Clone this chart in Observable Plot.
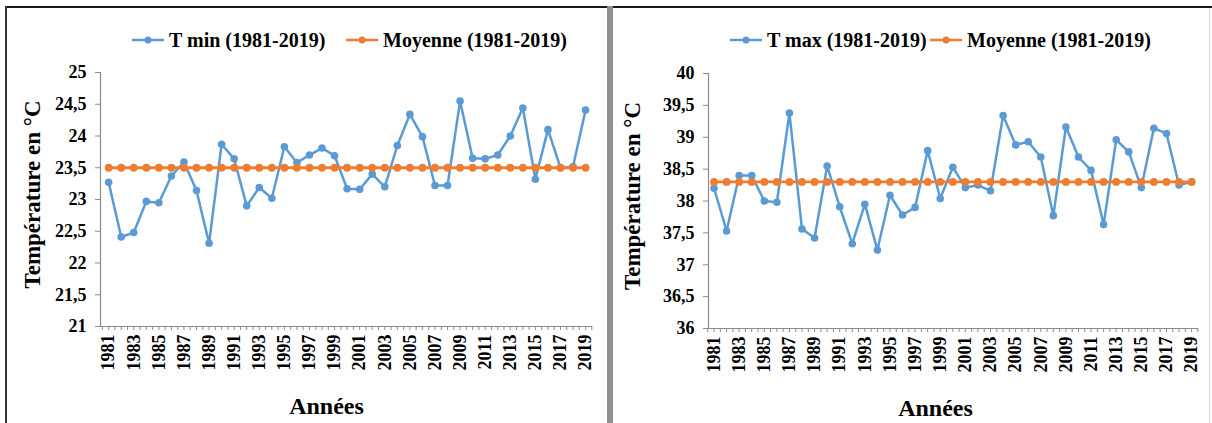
<!DOCTYPE html>
<html><head><meta charset="utf-8">
<script src="https://cdn.jsdelivr.net/npm/d3@7"></script>
<script src="https://cdn.jsdelivr.net/npm/@observablehq/plot@0.6"></script>
<style>
body{margin:0;background:#fff;}
#wrap{position:relative;width:1212px;height:423px;overflow:hidden;background:#fff;font-family:'Liberation Serif','DejaVu Serif',serif;font-weight:bold;color:#000;}
.panel{position:absolute;top:0;width:606px;height:423px;}
.panel svg{display:block;}
.leg{position:absolute;top:29px;height:22px;display:flex;align-items:center;font-size:20px;white-space:nowrap;}
.leg svg{margin-right:4px;}
.line{position:absolute;}
</style>
</head><body>
<div id="wrap"></div>
<script>
// ---- data ----
const years = [1981,1982,1983,1984,1985,1986,1987,1988,1989,1990,1991,1992,1993,1994,1995,1996,1997,1998,1999,2000,2001,2002,2003,2004,2005,2006,2007,2008,2009,2010,2011,2012,2013,2014,2015,2016,2017,2018,2019];
const tmin = [23.27,22.41,22.48,22.97,22.95,23.37,23.59,23.14,22.31,23.87,23.64,22.90,23.19,23.02,23.83,23.58,23.70,23.81,23.69,23.17,23.16,23.40,23.20,23.85,24.34,23.99,23.22,23.22,24.55,23.65,23.64,23.70,24.00,24.44,23.32,24.10,23.50,23.52,24.41];
const tminMoyenne = 23.5;
const tmax = [38.20,37.53,38.40,38.40,38.00,37.98,39.38,37.56,37.42,38.55,37.91,37.33,37.95,37.23,38.09,37.78,37.90,38.79,38.04,38.53,38.21,38.25,38.16,39.34,38.88,38.93,38.69,37.77,39.16,38.69,38.48,37.63,38.96,38.77,38.21,39.14,39.06,38.25,38.30];
const tmaxMoyenne = 38.3;
const yTicksMin = [21,21.5,22,22.5,23,23.5,24,24.5,25];
const yTicksMax = [36,36.5,37,37.5,38,38.5,39,39.5,40];
const xTickLabels = [1981,1983,1985,1987,1989,1991,1993,1995,1997,1999,2001,2003,2005,2007,2009,2011,2013,2015,2017,2019];
const legendMin = ["T min (1981-2019)", "Moyenne (1981-2019)"];
const legendMax = ["T max (1981-2019)", "Moyenne (1981-2019)"];
const yTitle = "Température en °C";
const xTitle = "Années";

const BLUE = "#5b9bd5", ORANGE = "#ed7d31", AXIS = "#8c8c8c";
const FONT = "'Liberation Serif','DejaVu Serif',serif";
const halfTicks = years.flatMap(y => [y - 0.5, y]).concat([years[years.length-1] + 0.5]);

function chart(o) {
  const data = years.map((year, i) => ({year, value: o.values[i], mean: o.mean}));
  return Plot.plot({
    width: 606, height: 423,
    marginLeft: o.ml, marginRight: o.mr, marginTop: o.mt, marginBottom: o.mb,
    x: {domain: o.xDomain},
    y: {domain: o.yDomain},
    style: {fontFamily: FONT, fontWeight: "bold", fontSize: "16px", background: "transparent", color: "#000", overflow: "visible"},
    marks: [
      Plot.ruleY([o.yDomain[0]], {stroke: AXIS, strokeWidth: 1.2}),
      Plot.ruleX([o.xDomain[0]], {stroke: AXIS, strokeWidth: 1.2}),
      Plot.axisY({ticks: o.yTicks, tickFormat: d => String(d).replace(".", ","), tickSize: 5, tickPadding: 9, label: null, stroke: AXIS, fill: "#000", fontSize: 18, fontFamily: FONT, fontWeight: "bold"}),
      Plot.axisX({ticks: halfTicks, tickSize: 4, tickFormat: () => "", label: null, stroke: AXIS}),
      Plot.axisX({ticks: xTickLabels, tickSize: 0, tickRotate: -90, tickPadding: 8, tickFormat: d => String(d), label: null, fill: "#000", fontSize: 18, fontFamily: FONT, fontWeight: "bold"}),
      Plot.line(data, {x: "year", y: "value", stroke: BLUE, strokeWidth: 2.5}),
      Plot.dot(data, {x: "year", y: "value", fill: BLUE, r: 3.8}),
      Plot.line(data, {x: "year", y: "mean", stroke: ORANGE, strokeWidth: 2.8}),
      Plot.dot(data, {x: "year", y: "mean", fill: ORANGE, r: 3.9}),
      Plot.text([yTitle], {text: d => d, frameAnchor: "left", textAnchor: "middle", rotate: -90, dx: o.ytdx, dy: o.ytdy, fontSize: 23, fill: "#000", fontFamily: FONT, fontWeight: "bold"}),
      Plot.text([xTitle], {text: d => d, frameAnchor: "bottom", textAnchor: "middle", dy: 87, dx: o.xtdx, fontSize: 24, fill: "#000", fontFamily: FONT, fontWeight: "bold"})
    ]
  });
}

function swatch(color) {
  const ns = "http://www.w3.org/2000/svg";
  const s = document.createElementNS(ns, "svg");
  s.setAttribute("width", 34); s.setAttribute("height", 12);
  s.innerHTML = `<line x1="1" x2="33" y1="6" y2="6" stroke="${color}" stroke-width="2.5"/><circle cx="17" cy="6" r="3.5" fill="${color}"/>`;
  return s;
}

const wrap = document.getElementById("wrap");
function addLegend(parent, left, color, label) {
  const d = document.createElement("div");
  d.className = "leg"; d.style.left = left + "px";
  d.appendChild(swatch(color));
  d.appendChild(document.createTextNode(label));
  parent.appendChild(d);
}

// left panel
const p1 = document.createElement("div"); p1.className = "panel"; p1.style.left = "0px";
p1.appendChild(chart({values: tmin, mean: tminMoyenne, yDomain: [21, 25], yTicks: yTicksMin,
  xDomain: [1980.35, 2019.55], ml: 100, mr: 14, mt: 72, mb: 97, ytdx: -68, ytdy: -5, xtdx: -20}));
addLegend(p1, 131, BLUE, legendMin[0]);
addLegend(p1, 345, ORANGE, legendMin[1]);
wrap.appendChild(p1);

// right panel
const p2 = document.createElement("div"); p2.className = "panel"; p2.style.left = "606px";
p2.appendChild(chart({values: tmax, mean: tmaxMoyenne, yDomain: [36, 40], yTicks: yTicksMax,
  xDomain: [1980.56, 2019.55], ml: 102, mr: 14, mt: 73, mb: 95, ytdx: -76, ytdy: -5, xtdx: -18}));
addLegend(p2, 123, BLUE, legendMax[0]);
addLegend(p2, 323, ORANGE, legendMax[1]);
wrap.appendChild(p2);

// frame lines
function bar(l, t, w, h, c) {
  const d = document.createElement("div"); d.className = "line";
  Object.assign(d.style, {left: l + "px", top: t + "px", width: w + "px", height: h + "px", background: c});
  wrap.appendChild(d);
}
bar(5, 6, 1207, 2, "#1a1a1a");
bar(5, 6, 2, 417, "#333");
bar(607, 6, 6, 417, "#8f8f8f");
bar(1209, 8, 1, 415, "#d8d8d8");
</script>
</body></html>
